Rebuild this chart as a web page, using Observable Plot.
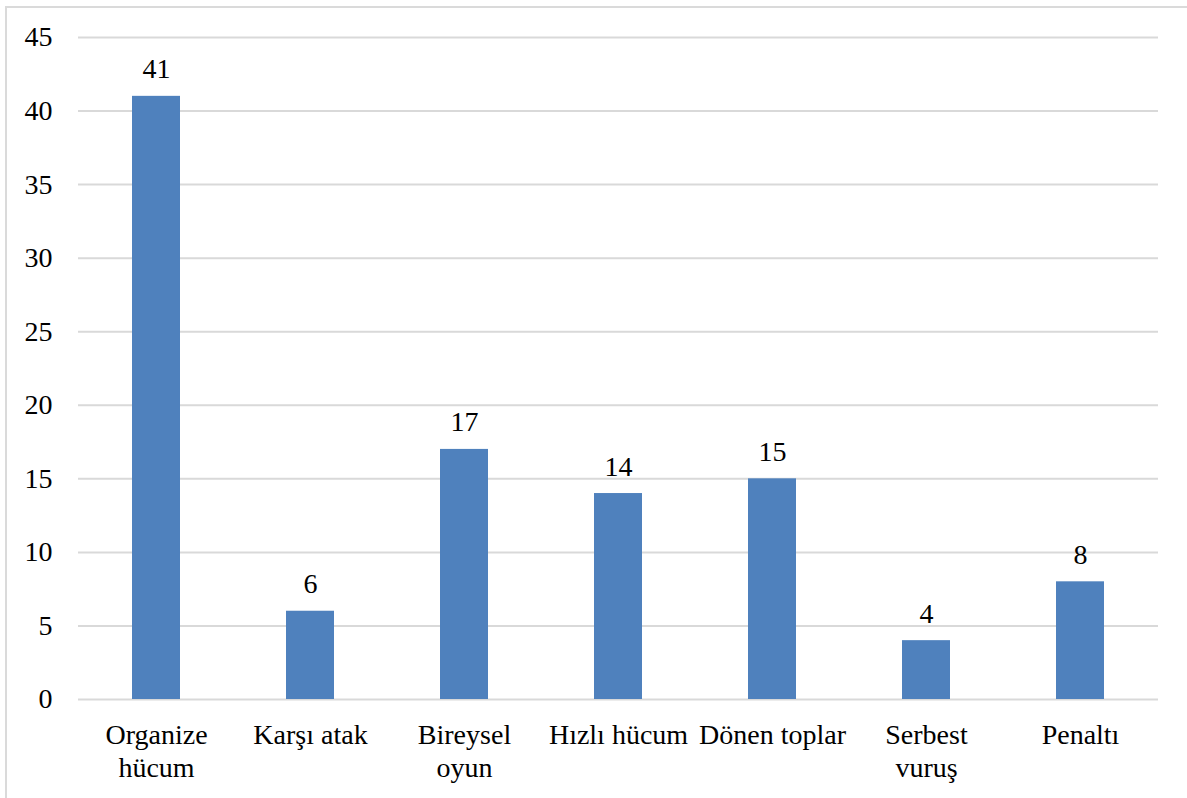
<!DOCTYPE html>
<html>
<head>
<meta charset="utf-8">
<script src="https://cdn.jsdelivr.net/npm/d3@7"></script>
<script src="https://cdn.jsdelivr.net/npm/@observablehq/plot@0.6"></script>
<style>
  html, body { margin: 0; padding: 0; background: #fff; overflow: hidden; }
  #wrap { position: relative; width: 1187px; height: 798px; overflow: hidden; }
  #frame { position: absolute; left: 5px; top: 6px; width: 1300px; height: 900px; border: 2px solid #DADADA; box-sizing: border-box; }
  #chart { position: absolute; left: 0; top: 0; }
  #chart svg, #chart svg text, #chart svg g { font-family: "Liberation Serif", "Times New Roman", serif !important; }
  #chart svg text { font-size: 28px !important; }
</style>
</head>
<body>
<div id="wrap"><div id="frame"></div><div id="chart"></div></div>
<script>
const categories = ["Organize hücum", "Karşı atak", "Bireysel oyun", "Hızlı hücum", "Dönen toplar", "Serbest vuruş", "Penaltı"];
const tickLabels = ["Organize\nhücum", "Karşı atak", "Bireysel\noyun", "Hızlı hücum", "Dönen toplar", "Serbest\nvuruş", "Penaltı"];
const values = [41, 6, 17, 14, 15, 4, 8];
const yTicks = [0, 5, 10, 15, 20, 25, 30, 35, 40, 45];

const data = categories.map((c, i) => ({category: c, value: values[i]}));
const labelOf = new Map(categories.map((c, i) => [c, tickLabels[i]]));

const chart = Plot.plot({
  width: 1187,
  height: 798,
  marginLeft: 78,
  marginRight: 29,
  marginTop: 37,
  marginBottom: 99,
  style: "font-family: 'Liberation Serif', serif; font-size: 28px; color: #000; background: transparent;",
  x: {domain: categories, paddingInner: 0.69, paddingOuter: 0.345, label: null},
  y: {domain: [0, 45], label: null},
  marks: [
    Plot.gridY(yTicks, {stroke: "#D9D9D9", strokeOpacity: 1, strokeWidth: 2}),
    Plot.axisY(yTicks, {tickSize: 0, tickPadding: 26, fontSize: 28, label: null, fill: "#000"}),
    Plot.axisX({tickSize: 0, tickPadding: 21, fontSize: 28, lineHeight: 1.18, label: null, fill: "#000", tickFormat: d => labelOf.get(d)}),
    Plot.barY(data, {x: "category", y: "value", fill: "#4F81BD"}),
    Plot.text(data, {x: "category", y: "value", text: d => String(d.value), lineAnchor: "bottom", dy: -18, fontSize: 28, fill: "#000"})
  ]
});
document.getElementById("chart").appendChild(chart);
</script>
</body>
</html>
